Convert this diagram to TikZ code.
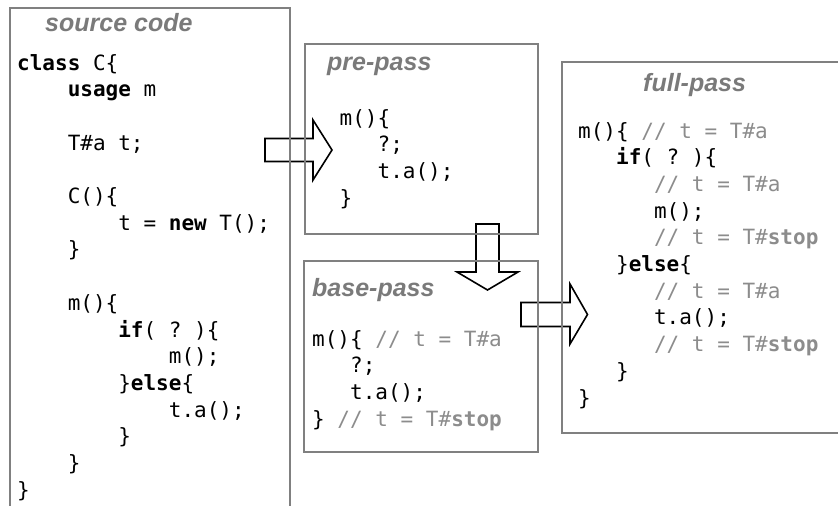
\documentclass[tikz,border=0pt]{standalone}
\usepackage{fontspec}
\setmonofont{DejaVu Sans Mono}
\setsansfont{Liberation Sans}
\definecolor{framegray}{RGB}{128,128,128}
\definecolor{titlegray}{RGB}{122,122,122}
\definecolor{cmtgray}{RGB}{140,140,140}
\newcommand\kw[1]{\textbf{#1}}
\newcommand\cmt[1]{\textcolor{cmtgray}{#1}}
\newcommand\cw{12.64}
\newcommand\ls{26.7}

\begin{document}
\begin{tikzpicture}[x=1pt,y=-1pt,
  panel/.style={draw=framegray, line width=2pt, inner sep=0pt, outer sep=0pt, anchor=north west},
  heading/.style={anchor=base west, inner sep=0pt, text=titlegray,
    font=\fontsize{25}{30}\selectfont\sffamily\bfseries\itshape},
  code/.style={anchor=base west, inner sep=0pt, font=\fontsize{21}{26}\selectfont\ttfamily},
  blockarrow/.style={draw=black, fill=white, line width=1.6pt, line join=miter}]
\useasboundingbox (0,0) rectangle (838,506);
\clip (0,0) rectangle (838,506);

% block arrows between the passes (drawn under the frames)
\draw[blockarrow] (265,138.5) -- (313,138.5) -- (313,120) -- (332,150) -- (313,180)
  -- (313,161.5) -- (265,161.5) -- cycle;
\draw[blockarrow] (476,224) -- (476,272) -- (457,272) -- (487.5,290) -- (518,272)
  -- (499,272) -- (499,224) -- cycle;
\draw[blockarrow] (521,302.5) -- (570,302.5) -- (570,284) -- (587.5,314.5) -- (570,344)
  -- (570,326.5) -- (521,326.5) -- cycle;

% frames
\node[panel, minimum width=280pt, minimum height=520pt] (src) at (10,8) {};
\node[panel, minimum width=233pt, minimum height=190pt] (pre) at (305,44) {};
\node[panel, minimum width=234pt, minimum height=191pt] (base) at (304,261) {};
\node[panel, minimum width=300pt, minimum height=371pt] (full) at (562,62) {};

% headings
\node[heading] (srcT) at (45,31.5) {source code};
\node[heading] (preT) at (327,70.5) {pre-pass};
\node[heading] (baseT) at (312,296) {base-pass};
\node[heading] (fullT) at (643,91) {full-pass};

% source code
\node[code] (s1)  at ({17},{70})            {\kw{class} C\{};
\node[code] (s2)  at ({17+4*\cw},{70+1*\ls})  {\kw{usage} m};
\node[code] (s4)  at ({17+4*\cw},{70+3*\ls})  {T\#a t;};
\node[code] (s6)  at ({17+4*\cw},{70+5*\ls})  {C()\{};
\node[code] (s7)  at ({17+8*\cw},{70+6*\ls})  {t = \kw{new} T();};
\node[code] (s8)  at ({17+4*\cw},{70+7*\ls})  {\}};
\node[code] (s10) at ({17+4*\cw},{70+9*\ls})  {m()\{};
\node[code] (s11) at ({17+8*\cw},{70+10*\ls}) {\kw{if}( ? )\{};
\node[code] (s12) at ({17+12*\cw},{70+11*\ls}) {m();};
\node[code] (s13) at ({17+8*\cw},{70+12*\ls}) {\}\kw{else}\{};
\node[code] (s14) at ({17+12*\cw},{70+13*\ls}) {t.a();};
\node[code] (s15) at ({17+8*\cw},{70+14*\ls}) {\}};
\node[code] (s16) at ({17+4*\cw},{70+15*\ls}) {\}};
\node[code] (s17) at ({17},{70+16*\ls})       {\}};

% pre-pass
\node[code] (p1) at ({339.5},{125})            {m()\{};
\node[code] (p2) at ({339.5+3*\cw},{125+1*\ls}) {?;};
\node[code] (p3) at ({339.5+3*\cw},{125+2*\ls}) {t.a();};
\node[code] (p4) at ({339.5},{125+3*\ls})      {\}};

% base-pass
\node[code] (b1) at ({312},{346})            {m()\{ \cmt{// t = T\#a}};
\node[code] (b2) at ({312+3*\cw},{346+1*\ls}) {?;};
\node[code] (b3) at ({312+3*\cw},{346+2*\ls}) {t.a();};
\node[code] (b4) at ({312},{346+3*\ls})      {\} \cmt{// t = T\#\kw{stop}}};

% full-pass
\node[code] (f0)  at ({578},{138})             {m()\{ \cmt{// t = T\#a}};
\node[code] (f1)  at ({578+3*\cw},{138+1*\ls}) {\kw{if}( ? )\{};
\node[code] (f2)  at ({578+6*\cw},{138+2*\ls}) {\cmt{// t = T\#a}};
\node[code] (f3)  at ({578+6*\cw},{138+3*\ls}) {m();};
\node[code] (f4)  at ({578+6*\cw},{138+4*\ls}) {\cmt{// t = T\#\kw{stop}}};
\node[code] (f5)  at ({578+3*\cw},{138+5*\ls}) {\}\kw{else}\{};
\node[code] (f6)  at ({578+6*\cw},{138+6*\ls}) {\cmt{// t = T\#a}};
\node[code] (f7)  at ({578+6*\cw},{138+7*\ls}) {t.a();};
\node[code] (f8)  at ({578+6*\cw},{138+8*\ls}) {\cmt{// t = T\#\kw{stop}}};
\node[code] (f9)  at ({578+3*\cw},{138+9*\ls}) {\}};
\node[code] (f10) at ({578},{138+10*\ls})      {\}};
\end{tikzpicture}
\end{document}
